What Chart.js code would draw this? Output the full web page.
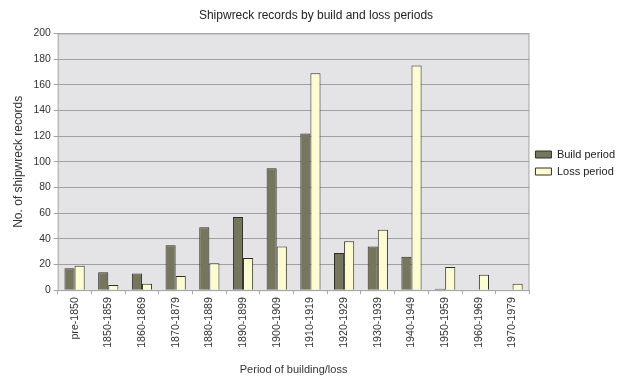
<!DOCTYPE html>
<html>
<head>
<meta charset="utf-8">
<script src="https://cdn.jsdelivr.net/npm/chart.js@4"></script>
<style>
html,body{margin:0;padding:0;background:#fff;overflow:hidden;}
#wrap{width:617px;height:378px;}
</style>
</head>
<body>
<div id="wrap"><canvas id="c" width="617" height="378"></canvas></div>
<script>
const categories = ["pre-1850","1850-1859","1860-1869","1870-1879","1880-1889","1890-1899","1900-1909","1910-1919","1920-1929","1930-1939","1940-1949","1950-1959","1960-1969","1970-1979"];
const buildPeriod = [17,14,13,35,49,57,95,122,29,34,26,1,0,0];
const lossPeriod = [19,4,5,11,21,25,34,169,38,47,175,18,12,5];
const yTicks = [0,20,40,60,80,100,120,140,160,180,200];

const plotBg = {
  id:'plotBg',
  beforeDraw(chart){
    const {ctx, chartArea:a} = chart;
    ctx.save();
    ctx.fillStyle = '#e4e4e6';
    ctx.fillRect(a.left, a.top, a.right-a.left, a.bottom-a.top);
    ctx.restore();
  },
  afterDatasetsDraw(chart){
    const {ctx, chartArea:a} = chart;
    ctx.save();
    ctx.strokeStyle = '#a8a8a8';
    ctx.lineWidth = 1;
    ctx.strokeRect(a.left+0.5, a.top+0.5, a.right-a.left-1, a.bottom-a.top);
    ctx.restore();
  }
};

Chart.defaults.font.family = '"Liberation Sans", Arial, sans-serif';
Chart.defaults.color = '#333';

new Chart(document.getElementById('c'), {
  type: 'bar',
  data: {
    labels: categories,
    datasets: [
      {label:'Build period', data: buildPeriod, backgroundColor:'#76765f', borderColor:'#2e2e28', borderWidth:1, categoryPercentage:0.6, barPercentage:1},
      {label:'Loss period', data: lossPeriod, backgroundColor:'#fdfbd2', borderColor:'#2e2e28', borderWidth:1, categoryPercentage:0.6, barPercentage:1}
    ]
  },
  options: {
    responsive:false,
    animation:false,
    layout:{padding:{top:3,right:-8,left:7,bottom:1}},
    plugins:{
      title:{display:true, text:'Shipwreck records by build and loss periods', font:{size:12, weight:'normal'}, color:'#222', padding:{top:5,bottom:11}},
      legend:{position:'right', align:'start',
        title:{display:true, text:'', font:{size:10}, padding:{top:0,bottom:128}},
        labels:{boxWidth:16, boxHeight:7, font:{size:11}, color:'#222', padding:6}},
      tooltip:{enabled:false}
    },
    scales:{
      x:{
        grid:{display:true, drawOnChartArea:false, drawTicks:true, tickLength:4, color:'#a8a8a8', offset:true},
        border:{color:'#a8a8a8'},
        ticks:{maxRotation:90, minRotation:90, font:{size:10.6}, color:'#333', padding:3},
        title:{display:true, text:'Period of building/loss', font:{size:11}, color:'#333', padding:{top:13, bottom:0}}
      },
      y:{
        min:0, max:200,
        afterBuildTicks(axis){ axis.ticks = yTicks.map(v=>({value:v})); },
        grid:{color:'#a0a0a0', drawTicks:true, tickLength:4},
        border:{display:false},
        ticks:{font:{size:10.4}, color:'#333', padding:3},
        title:{display:true, text:'No. of shipwreck records', font:{size:12}, color:'#333', padding:{bottom:5}}
      }
    }
  },
  plugins:[plotBg]
});
</script>
</body>
</html>
